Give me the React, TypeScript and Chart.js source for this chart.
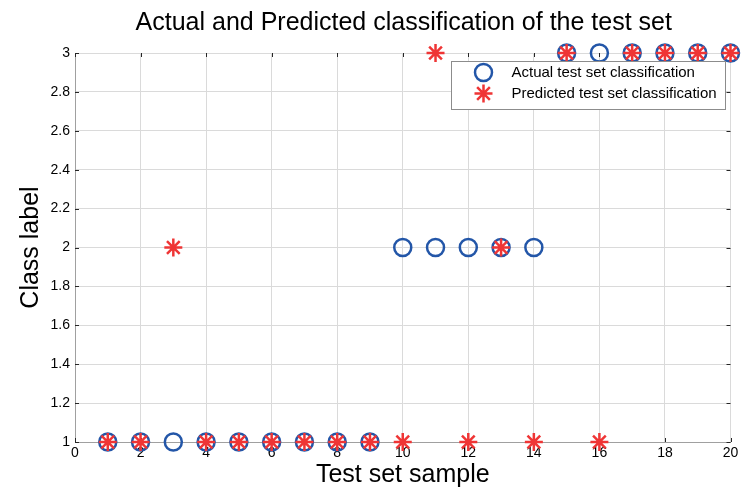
import React, { useEffect, useRef } from "react";
import { Chart, registerables } from "chart.js";
import { drawPoint } from "chart.js/helpers";

Chart.register(...registerables);

const chartTitle = "Actual and Predicted classification of the test set";
const xAxisTitle = "Test set sample";
const yAxisTitle = "Class label";

const samples = [1, 2, 3, 4, 5, 6, 7, 8, 9, 10, 11, 12, 13, 14, 15, 16, 17, 18, 19, 20];
const actualClass = [1, 1, 1, 1, 1, 1, 1, 1, 1, 2, 2, 2, 2, 2, 3, 3, 3, 3, 3, 3];
const predictedClass = [1, 1, 2, 1, 1, 1, 1, 1, 1, 1, 3, 1, 2, 1, 3, 1, 3, 3, 3, 3];
const legendLabels = ["Actual test set classification", "Predicted test set classification"];

const xRange = [0, 20];
const xStep = 2;
const yRange = [1, 3];
const yStep = 0.2;

const FONT = "'Liberation Sans', Arial, Helvetica, sans-serif";
const BLUE = "#2356a8";
const RED = "#ef3535";

const plotTitle = {
  id: "plotTitle",
  afterDraw(chart: any) {
    const { ctx, chartArea } = chart;
    ctx.save();
    ctx.fillStyle = "#000000";
    ctx.font = `25px ${FONT}`;
    ctx.textAlign = "center";
    ctx.textBaseline = "middle";
    ctx.fillText(chartTitle, (chartArea.left + chartArea.right) / 2 + 1, chartArea.top - 30);
    ctx.restore();
  },
};

const innerTicks = {
  id: "innerTicks",
  beforeDatasetsDraw(chart: any) {
    const { ctx, chartArea } = chart;
    const xs = chart.scales.x;
    const ys = chart.scales.y;
    const len = 4;
    ctx.save();
    ctx.strokeStyle = "#262626";
    ctx.lineWidth = 1;
    ctx.beginPath();
    xs.ticks.forEach((t: any) => {
      const px = Math.round(xs.getPixelForValue(t.value)) + 0.5;
      ctx.moveTo(px, chartArea.bottom);
      ctx.lineTo(px, chartArea.bottom - len);
      ctx.moveTo(px, chartArea.top);
      ctx.lineTo(px, chartArea.top + len);
    });
    ys.ticks.forEach((t: any) => {
      const py = Math.round(ys.getPixelForValue(t.value)) + 0.5;
      ctx.moveTo(chartArea.left, py);
      ctx.lineTo(chartArea.left + len, py);
      ctx.moveTo(chartArea.right, py);
      ctx.lineTo(chartArea.right - len, py);
    });
    ctx.stroke();
    ctx.restore();
  },
};

const boxLegend = {
  id: "boxLegend",
  afterDraw(chart: any) {
    const { ctx, chartArea } = chart;
    const w = 274;
    const h = 48;
    const left = Math.round(chartArea.right - 280) + 0.5;
    const top = Math.round(chartArea.top + 8) + 0.5;
    ctx.save();
    ctx.fillStyle = "#ffffff";
    ctx.fillRect(left, top, w, h);
    ctx.strokeStyle = "#8c8c8c";
    ctx.lineWidth = 1;
    ctx.strokeRect(left, top, w, h);
    const ds = chart.data.datasets;
    const rows = [top + 11, top + 32];
    legendLabels.forEach((label, i) => {
      const d = ds[i];
      ctx.strokeStyle = d.borderColor;
      ctx.fillStyle = "rgba(0,0,0,0)";
      ctx.lineWidth = d.borderWidth;
      drawPoint(ctx, { pointStyle: d.pointStyle, radius: d.pointRadius, rotation: 0, borderWidth: d.borderWidth }, left + 32, rows[i]);
      ctx.fillStyle = "#000000";
      ctx.font = `15px ${FONT}`;
      ctx.textBaseline = "middle";
      ctx.textAlign = "left";
      ctx.fillText(label, left + 60, rows[i]);
    });
    ctx.restore();
  },
};

export default function App() {
  const ref = useRef<HTMLCanvasElement | null>(null);
  useEffect(() => {
    document.body.style.margin = "0";
    const canvas = ref.current;
    if (!canvas) return;
    const chart = new Chart(canvas, {
      type: "scatter",
      data: {
        datasets: [
          {
            label: legendLabels[0],
            data: samples.map((s, i) => ({ x: s, y: actualClass[i] })),
            pointStyle: "circle",
            pointRadius: 8.5,
            pointHoverRadius: 8.5,
            borderWidth: 2.5,
            borderColor: BLUE,
            backgroundColor: "rgba(0,0,0,0)",
            clip: false,
            order: 2,
          } as any,
          {
            label: legendLabels[1],
            data: samples.map((s, i) => ({ x: s, y: predictedClass[i] })),
            pointStyle: "star",
            pointRadius: 9,
            pointHoverRadius: 9,
            borderWidth: 2.5,
            borderColor: RED,
            backgroundColor: RED,
            clip: false,
            order: 1,
          } as any,
        ],
      },
      options: {
        responsive: false,
        animation: false,
        layout: { padding: { left: 0, right: 9, top: 53, bottom: 0 } },
        plugins: {
          legend: { display: false },
          tooltip: { enabled: false },
          title: { display: false },
        },
        scales: {
          x: {
            type: "linear",
            min: xRange[0],
            max: xRange[1],
            afterFit(scale: any) {
              scale.height = 46;
            },
            ticks: {
              stepSize: xStep,
              color: "#000000",
              font: { family: FONT, size: 14, lineHeight: 1.2 },
              padding: 3,
              maxRotation: 0,
              autoSkip: false,
            },
            grid: { color: "#dadada", drawTicks: false, lineWidth: 1 },
            border: { display: true, color: "#a0a0a0" },
            title: {
              display: true,
              text: xAxisTitle,
              color: "#000000",
              font: { family: FONT, size: 25, lineHeight: 1 },
              padding: { top: 0, bottom: 0 },
            },
          },
          y: {
            type: "linear",
            min: yRange[0],
            max: yRange[1],
            afterFit(scale: any) {
              scale.width = 75;
            },
            ticks: {
              stepSize: yStep,
              color: "#000000",
              font: { family: FONT, size: 14, lineHeight: 1.2 },
              padding: 5,
              autoSkip: false,
              callback: (v: any) => String(Math.round(Number(v) * 10) / 10),
            },
            grid: { color: "#dadada", drawTicks: false, lineWidth: 1 },
            border: { display: true, color: "#a0a0a0" },
            title: {
              display: true,
              text: yAxisTitle,
              color: "#000000",
              font: { family: FONT, size: 25, lineHeight: 1 },
              padding: { top: 19, bottom: 0 },
            },
          },
        },
      },
      plugins: [innerTicks, boxLegend, plotTitle],
    } as any);
    return () => chart.destroy();
  }, []);
  return (
    <div style={{ position: "absolute", left: 0, top: 0, width: 742, height: 488 }}>
      <canvas ref={ref} width={742} height={488} />
    </div>
  );
}
